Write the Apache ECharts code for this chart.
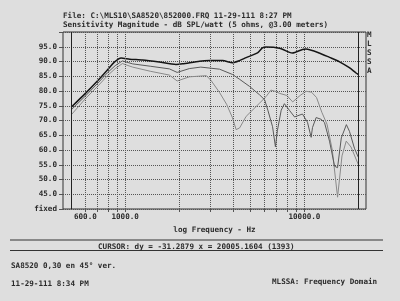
<!DOCTYPE html>
<html>
<head>
<meta charset="utf-8">
<script src="https://cdn.jsdelivr.net/npm/echarts@6/dist/echarts.min.js"></script>
<style>
  html, body { margin: 0; padding: 0; background: #dedede; }
  #chart { width: 400px; height: 301px; }
</style>
</head>
<body>
<div id="chart"></div>
<script>
// MLSSA sensitivity plot, 3 curves (black + 2 grey)
const freqA = [500, 600, 700, 800, 870, 950, 1060, 1250, 1550, 1920, 2090, 2600, 2950, 3500, 3970, 4340, 4730, 5470, 5830, 6110, 7260, 8260, 8580, 9750, 10200, 12100, 13800, 15700, 17800, 19400, 20000]
const dbA = [74.5, 79.2, 83.4, 87.3, 89.8, 91.2, 90.8, 90.5, 89.8, 89.0, 89.2, 90.1, 90.3, 90.3, 89.6, 90.3, 91.3, 92.9, 94.6, 94.9, 94.5, 93.1, 92.9, 94.1, 94.2, 92.9, 91.4, 89.9, 87.9, 86.1, 85.6]

const freqB = [500, 600, 700, 800, 880, 965, 1100, 1380, 1765, 1950, 2280, 2640, 3360, 3970, 4340, 4930, 5620, 6000, 6250, 6640, 6890, 7070, 7420, 7730, 8260, 8810, 9750, 10400, 10900, 11090, 11620, 12400, 12940, 13800, 14730, 15300, 16060, 17140, 17840, 19000, 20000]
const dbB = [73.6, 78.3, 82.5, 86.3, 88.6, 90.2, 89.2, 88.4, 87.5, 86.3, 87.6, 88.1, 87.4, 85.6, 84.0, 81.6, 78.7, 77.0, 73.5, 67.9, 61.1, 66.7, 73.5, 75.7, 73.4, 71.2, 72.2, 69.4, 64.3, 67.6, 71.0, 70.4, 69.3, 63.0, 54.5, 54.0, 64.1, 68.6, 66.3, 60.6, 57.5]

const freqC = [500, 600, 700, 800, 880, 965, 1100, 1380, 1765, 1950, 2280, 2840, 3020, 3360, 3680, 3970, 4160, 4350, 4730, 5620, 6110, 6500, 6960, 7260, 7970, 8600, 9470, 10220, 10950, 11680, 12500, 13370, 14300, 15300, 16200, 17100, 18200, 20000]
const dbC = [71.9, 77.4, 81.5, 85.3, 87.6, 89.3, 88.1, 86.7, 85.4, 83.4, 84.8, 85.2, 83.5, 79.5, 75.5, 70.9, 66.9, 67.5, 71.4, 75.9, 78.1, 80.3, 79.8, 79.2, 78.5, 76.3, 78.5, 79.9, 79.6, 77.8, 72.8, 68.7, 60.0, 44.0, 58.0, 63.0, 61.0, 55.0]

const gridFreqs = [600, 700, 800, 900, 1000, 2000, 3000, 4000, 5000, 6000, 7000, 8000, 9000, 10000]
const labelFreqs = [600, 1000, 10000]
const cursorFreqs = [500, 20005.1604]

const mono = 'DejaVu Sans Mono'
const ink = '#2a2a2a'
const txt = { fontFamily: mono, fontWeight: 'bold', fontSize: 7.6, color: ink }

const pairs = (xs, ys) => xs.map((x, i) => [x, ys[i]])

const chart = echarts.init(document.getElementById('chart'))
let option = {
  backgroundColor: '#dedede',
  animation: false,
  title: [
    {
      text: 'File: C:\\MLS10\\SA8520\\852000.FRQ 11-29-111 8:27 PM\nSensitivity Magnitude - dB SPL/watt (5 ohms, @3.00 meters)',
      left: 63, top: 12, padding: 0,
      textStyle: Object.assign({}, txt, { lineHeight: 9 })
    },
    {
      text: 'M\nL\nS\nS\nA',
      left: 367, top: 31, padding: 0,
      textStyle: Object.assign({}, txt, { lineHeight: 9 })
    },
    {
      text: 'CURSOR: dy = -31.2879 x = 20005.1604 (1393)',
      left: 98, top: 243.5, padding: 0,
      textStyle: txt
    },
    {
      text: 'SA8520 0,30 en 45° ver.',
      left: 11, top: 262.5, padding: 0,
      textStyle: txt
    },
    {
      text: '11-29-111 8:34 PM',
      left: 11, top: 280, padding: 0,
      textStyle: txt
    },
    {
      text: 'MLSSA: Frequency Domain',
      left: 272, top: 278, padding: 0,
      textStyle: txt
    }
  ],
  graphic: [
    { type: 'line', shape: { x1: 10, y1: 240, x2: 383, y2: 240 }, style: { stroke: '#333', lineWidth: 1.2 } },
    { type: 'line', shape: { x1: 10, y1: 250.5, x2: 383, y2: 250.5 }, style: { stroke: '#333', lineWidth: 1.2 } }
  ],
  grid: {
    left: 63, right: 34, top: 32, bottom: 92,
    show: true, borderColor: '#333', borderWidth: 1
  },
  xAxis: {
    type: 'log',
    min: 450,
    max: 22050,
    name: 'log Frequency - Hz',
    nameLocation: 'middle',
    nameGap: 15,
    nameTextStyle: txt,
    axisLine: { show: false },
    splitLine: { show: false },
    axisTick: { show: true, length: 3, customValues: gridFreqs, lineStyle: { color: '#555' } },
    axisLabel: {
      customValues: labelFreqs,
      margin: 4,
      fontFamily: mono, fontWeight: 'bold', fontSize: 7.6, color: ink,
      formatter: v => Number(v).toFixed(1)
    }
  },
  yAxis: {
    type: 'value',
    min: 40,
    max: 100,
    interval: 5,
    axisLine: { show: false },
    axisTick: { show: true, length: 4, lineStyle: { color: '#555' } },
    splitLine: { lineStyle: { type: 'dotted', color: '#555' } },
    axisLabel: {
      margin: 6,
      fontFamily: mono, fontWeight: 'bold', fontSize: 7.6, color: ink,
      formatter: v => (v === 100 ? '' : v === 40 ? 'fixed' : v.toFixed(1))
    }
  },
  series: [
    {
      type: 'line',
      data: pairs(freqC, dbC),
      showSymbol: false,
      lineStyle: { color: '#8a8a8a', width: 1 },
      markLine: {
        silent: true,
        symbol: 'none',
        label: { show: false },
        lineStyle: { type: 'dotted', color: '#555', width: 1 },
        data: gridFreqs.map(f => ({ xAxis: f }))
      }
    },
    {
      type: 'line',
      data: pairs(freqB, dbB),
      showSymbol: false,
      lineStyle: { color: '#5a5a5a', width: 1 }
    },
    {
      type: 'line',
      data: pairs(freqA, dbA),
      showSymbol: false,
      smooth: 0.2,
      lineStyle: { color: '#151515', width: 1.5 },
      markLine: {
        silent: true,
        symbol: 'none',
        label: { show: false },
        lineStyle: { type: 'solid', color: '#222', width: 1 },
        data: cursorFreqs.map(f => ({ xAxis: f }))
      }
    }
  ]
}
chart.setOption(option)
</script>
</body>
</html>
